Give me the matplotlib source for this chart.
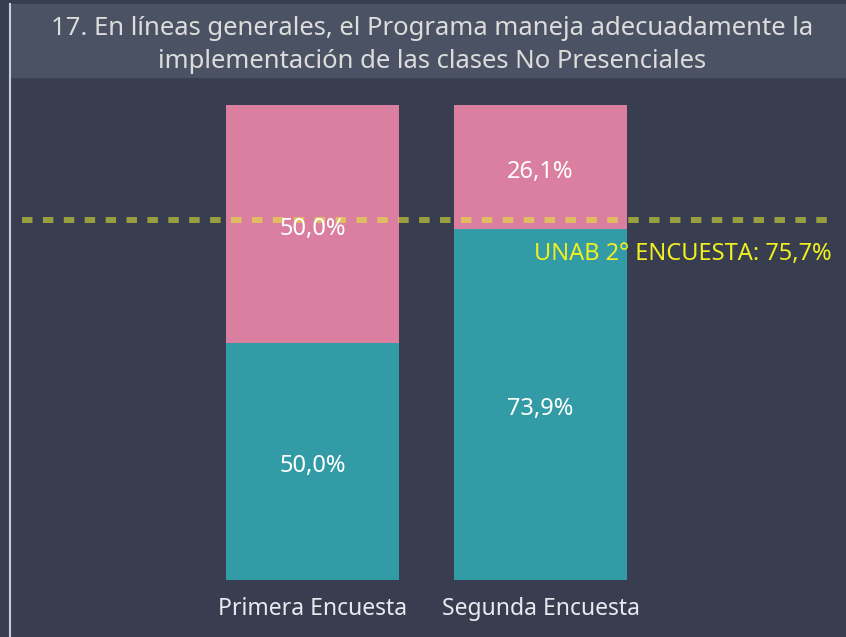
import matplotlib
matplotlib.use('Agg')
import matplotlib.pyplot as plt
from matplotlib.patches import Rectangle
from matplotlib.lines import Line2D

plt.rcParams['font.family'] = ['Noto Sans', 'DejaVu Sans']

categories = ['Primera Encuesta', 'Segunda Encuesta']
teal_values = [50.0, 73.9]
pink_values = [50.0, 26.1]
benchmark = 75.7
benchmark_label = 'UNAB 2° ENCUESTA: 75,7%'
title = ('17. En líneas generales, el Programa maneja adecuadamente la\n'
         'implementación de las clases No Presenciales')

W, H = 846, 637
bg = '#383e50'
fig = plt.figure(figsize=(W / 100, H / 100), dpi=100, facecolor=bg)

# title band and left border
fig.patches.append(Rectangle((11 / W, 1 - 77 / H), 1 - 11 / W, 73 / H,
                             transform=fig.transFigure, color='#4a5263', zorder=0))
fig.lines.append(Line2D([10 / W, 10 / W], [0, 1 - 4 / H], transform=fig.transFigure,
                        color='#c8ccd4', lw=1.5))
fig.text(432 / W, 1 - 45 / H, title, ha='center', va='center', color='#dcdcdc',
         fontsize=18.5, linespacing=1.42)

ax = fig.add_axes([22 / W, (H - 580) / H, 810 / W, 475 / H])
ax.set_facecolor(bg)
x = [0, 1]
width = 173 / 228
ax.bar(x, teal_values, width=width, color='#339ba5', zorder=2)
ax.bar(x, pink_values, width=width, bottom=teal_values, color='#db7fa0', zorder=2)
ax.set_xlim(-(312.5 - 22) / 228, 1 + (832 - 540.5) / 228)
ax.set_ylim(0, 100)

for xi, t, p in zip(x, teal_values, pink_values):
    ax.text(xi, t / 2 - 1, f'{t:.1f}%'.replace('.', ','), ha='center', va='center',
            color='white', fontsize=17, zorder=4)
    ax.text(xi, t + p / 2 - 1, f'{p:.1f}%'.replace('.', ','), ha='center', va='center',
            color='white', fontsize=17, zorder=4)

ax.axhline(benchmark, color='#e7f033', alpha=0.55, lw=4.3,
           linestyle=(0, (1.75, 1.75)), dash_capstyle='butt', zorder=3)
ax.text(1, benchmark - 7, benchmark_label, transform=ax.get_yaxis_transform(),
        ha='right', va='center', color='#f0f020', fontsize=17, zorder=4)

ax.set_xticks(x)
ax.set_xticklabels(categories, color='#e8eaf0', fontsize=16.5)
ax.tick_params(axis='x', length=0, pad=12)
ax.set_yticks([])
for s in ax.spines.values():
    s.set_visible(False)

fig.savefig('out.png', dpi=100, facecolor=bg)
